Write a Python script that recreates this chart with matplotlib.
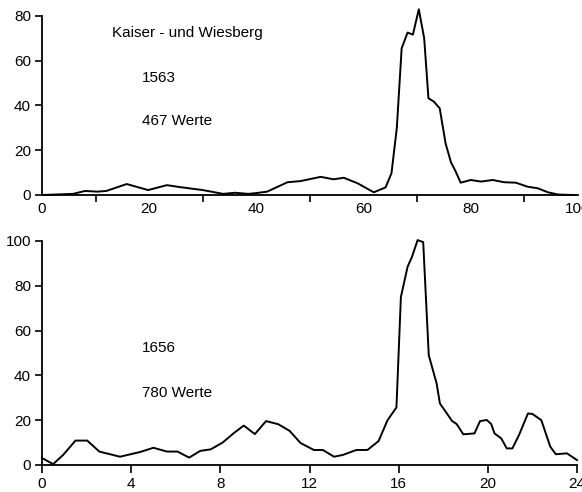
import matplotlib.pyplot as plt

# Upper panel: Kaiser- und Wiesberg, 1563 (467 values)
x_1563 = [0, 5.8, 8, 10.3, 12, 15.8, 19.8, 23.3, 25.8, 30, 33.8, 36, 38.5, 40.1, 42,
          45.8, 48.2, 52, 54.4, 56.3, 58.9, 61.9, 64.1, 65.2, 66.2, 67.1, 68.2, 69.2,
          70.3, 71.3, 72.1, 73.1, 74.2, 75.3, 76.3, 77.2, 78.1, 80, 81.9, 84.1, 86.2,
          88.4, 90.6, 92.5, 94.4, 96.3, 99.3]
y_1563 = [0, 0.5, 1.8, 1.5, 1.8, 4.9, 2.2, 4.4, 3.5, 2.2, 0.5, 1.0, 0.5, 0.9, 1.5,
          5.7, 6.2, 8.1, 7.0, 7.7, 5.2, 1.2, 3.4, 9.7, 30, 65.5, 72.5, 71.6,
          82.9, 70, 43.2, 41.7, 38.7, 23, 14.6, 10.4, 5.5, 6.7, 6.0, 6.7, 5.7,
          5.5, 3.7, 3.0, 1.2, 0.2, 0]

# Lower panel: 1656 (780 values)
x_1656 = [0, 0.5, 0.95, 1.5, 2.03, 2.57, 3.5, 4.4, 5.0, 5.6, 6.08, 6.6, 7.1, 7.57,
          8.1, 8.6, 9.05, 9.55, 10.05, 10.6, 11.1, 11.6, 12.2, 12.6, 13.1, 13.5,
          14.1, 14.6, 15.1, 15.5, 15.9, 16.1, 16.4, 16.6, 16.85, 17.1, 17.35, 17.7,
          17.85, 18.4, 18.6, 18.9, 19.4, 19.65, 19.95, 20.15, 20.3, 20.6, 20.85,
          21.1, 21.4, 21.8, 22.0, 22.4, 22.8, 23.05, 23.55, 24.0]
y_1656 = [3.1, 0.4, 4.5, 10.9, 10.9, 6.0, 3.7, 5.8, 7.7, 6.0, 6.0, 3.3, 6.3, 7.0,
          10, 14.2, 17.6, 13.8, 19.6, 18.2, 15.3, 9.8, 6.7, 6.7, 3.7, 4.5,
          6.7, 6.7, 10.7, 20, 25.7, 75, 88.5, 93, 100.4, 99.5, 49, 36.5,
          27.5, 19.6, 18.3, 13.7, 14.1, 19.6, 20.1, 18.3, 14.1, 11.9, 7.4,
          7.4, 13.4, 23, 22.8, 20, 8.2, 4.8, 5.2, 2.2]

top_yticks = [0, 20, 40, 60, 80]
top_xticks = [0, 20, 40, 60, 80, 100]
bot_yticks = [0, 20, 40, 60, 80, 100]
bot_xticks = [0, 4, 8, 12, 16, 20, 24]

plt.rcParams['font.family'] = ['Liberation Sans', 'DejaVu Sans']

fig = plt.figure(figsize=(5.82, 4.92), dpi=100)
ax1 = fig.add_axes([42 / 582, 297 / 492, 536 / 582, 85 * 2.24 / 492])
ax2 = fig.add_axes([42 / 582, 27 / 492, 535 / 582, 224 / 492])


def style(ax, xticks, yticks, xmin_tick):
    # plain scan look: only left and bottom axis lines
    for side in ('top', 'right'):
        ax.spines[side].set_visible(False)
    for side in ('left', 'bottom'):
        ax.spines[side].set_linewidth(1.3)
    ax.spines['left'].set_bounds(yticks[0], yticks[-1])
    ax.set_xticks(xticks)
    ax.set_yticks(yticks)
    if xmin_tick:
        ax.set_xticks(xmin_tick, minor=True)
    ax.tick_params(axis='both', which='both', direction='out', width=1.2,
                   length=5, labelsize=11, pad=3)
    ax.tick_params(axis='x', which='major', length=0, pad=5)


ax1.plot(x_1563, y_1563, color='black', lw=1.4, clip_on=False)
ax1.set_xlim(0, 100)
ax1.set_ylim(0, 85)
style(ax1, top_xticks, top_yticks, [10, 30, 50, 70, 90])
ax1.text(13.1, 72.3, 'Kaiser - und Wiesberg', fontsize=11, va='center')
ax1.text(18.7, 52.2, '1563', fontsize=11, va='center')
ax1.text(18.7, 33.0, '467 Werte', fontsize=11, va='center')

ax2.plot(x_1656, y_1656, color='black', lw=1.4, clip_on=False)
ax2.set_xlim(0, 24)
ax2.set_ylim(0, 100)
style(ax2, bot_xticks, bot_yticks, None)
ax2.tick_params(axis='x', which='major', length=6, pad=3)
ax2.text(4.5, 52.2, '1656', fontsize=11, va='center')
ax2.text(4.5, 32.1, '780 Werte', fontsize=11, va='center')

fig.savefig('out.png', dpi=100)
